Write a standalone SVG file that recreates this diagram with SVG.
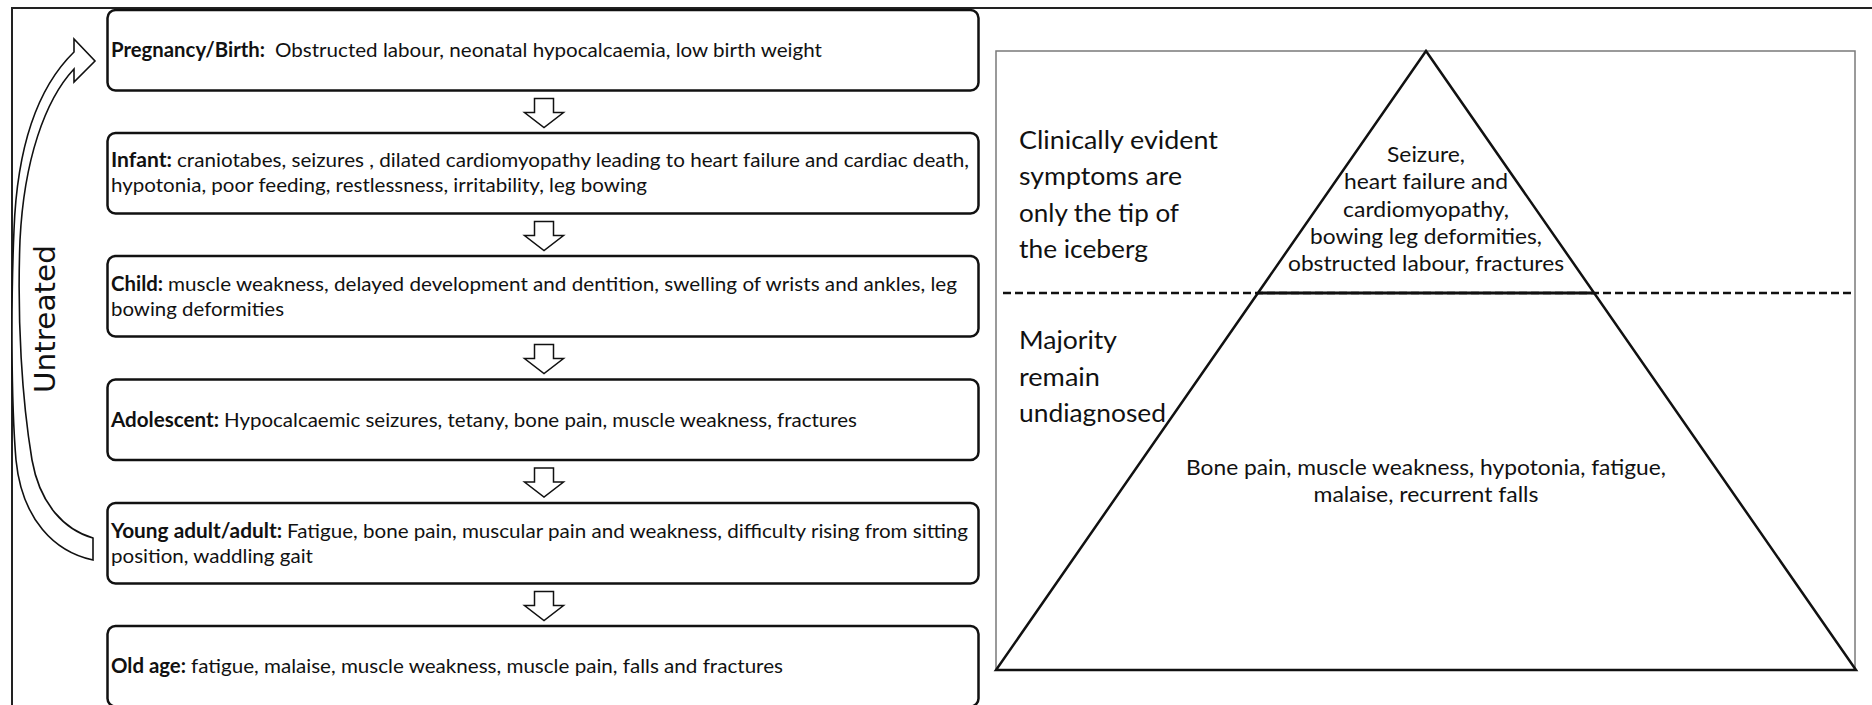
<svg xmlns="http://www.w3.org/2000/svg" width="1872" height="705" viewBox="0 0 1872 705">
<style>
.box{fill:#fff;stroke:#111;stroke-width:2.5}
.t{font-family:Lato,"Liberation Sans",sans-serif;font-size:20px;fill:#111}
.b{font-weight:bold}
.ice{font-family:Lato,"Liberation Sans",sans-serif;font-size:22px;fill:#111}
.lab{font-family:Lato,"Liberation Sans",sans-serif;font-size:25.5px;fill:#111}
.darr{fill:#fff;stroke:#111;stroke-width:1.5;stroke-linejoin:miter}
</style>
<rect width="1872" height="705" fill="#fff"/>
<path d="M12 705 L12 8 L1872 8" fill="none" stroke="#222" stroke-width="2"/>

<g id="node-pregnancy">
<rect class="box" x="107.5" y="10" width="871" height="80.5" rx="8"/>
<text class="t" y="57"><tspan class="b" x="111" textLength="154" lengthAdjust="spacingAndGlyphs">Pregnancy/Birth:</tspan><tspan x="275" textLength="547" lengthAdjust="spacingAndGlyphs">Obstructed labour, neonatal hypocalcaemia, low birth weight</tspan></text>
</g>
<g id="node-infant">
<rect class="box" x="107.5" y="133" width="871" height="80.5" rx="8"/>
<text class="t" y="167"><tspan class="b" x="111" textLength="61" lengthAdjust="spacingAndGlyphs">Infant:</tspan><tspan x="177" textLength="792" lengthAdjust="spacingAndGlyphs">craniotabes, seizures , dilated cardiomyopathy leading to heart failure and cardiac death,</tspan></text>
<text class="t" x="111" y="192" textLength="536" lengthAdjust="spacingAndGlyphs">hypotonia, poor feeding, restlessness, irritability, leg bowing</text>
</g>
<g id="node-child">
<rect class="box" x="107.5" y="256" width="871" height="80.5" rx="8"/>
<text class="t" y="291"><tspan class="b" x="111" textLength="52" lengthAdjust="spacingAndGlyphs">Child:</tspan><tspan x="168" textLength="789" lengthAdjust="spacingAndGlyphs">muscle weakness, delayed development and dentition, swelling of wrists and ankles, leg</tspan></text>
<text class="t" x="111" y="316" textLength="173" lengthAdjust="spacingAndGlyphs">bowing deformities</text>
</g>
<g id="node-adolescent">
<rect class="box" x="107.5" y="379.5" width="871" height="80.5" rx="8"/>
<text class="t" y="427"><tspan class="b" x="111" textLength="108" lengthAdjust="spacingAndGlyphs">Adolescent:</tspan><tspan x="224" textLength="633" lengthAdjust="spacingAndGlyphs">Hypocalcaemic seizures, tetany, bone pain, muscle weakness, fractures</tspan></text>
</g>
<g id="node-adult">
<rect class="box" x="107.5" y="503" width="871" height="80.5" rx="8"/>
<text class="t" y="538"><tspan class="b" x="111" textLength="171" lengthAdjust="spacingAndGlyphs">Young adult/adult:</tspan><tspan x="287" textLength="681" lengthAdjust="spacingAndGlyphs">Fatigue, bone pain, muscular pain and weakness, difficulty rising from sitting</tspan></text>
<text class="t" x="111" y="563" textLength="202" lengthAdjust="spacingAndGlyphs">position, waddling gait</text>
</g>
<g id="node-oldage">
<rect class="box" x="107.5" y="626" width="871" height="80.5" rx="8"/>
<text class="t" y="673"><tspan class="b" x="111" textLength="75" lengthAdjust="spacingAndGlyphs">Old age:</tspan><tspan x="191" textLength="592" lengthAdjust="spacingAndGlyphs">fatigue, malaise, muscle weakness, muscle pain, falls and fractures</tspan></text>
</g>

<g id="connectors">
<path class="darr" d="M534.5 98.5 L553.5 98.5 L553.5 112.5 L563.5 112.5 L544 127.5 L524.5 112.5 L534.5 112.5 Z"/>
<path class="darr" d="M534.5 221.5 L553.5 221.5 L553.5 235.5 L563.5 235.5 L544 250.5 L524.5 235.5 L534.5 235.5 Z"/>
<path class="darr" d="M534.5 344.5 L553.5 344.5 L553.5 358.5 L563.5 358.5 L544 373.5 L524.5 358.5 L534.5 358.5 Z"/>
<path class="darr" d="M534.5 468 L553.5 468 L553.5 482 L563.5 482 L544 497 L524.5 482 L534.5 482 Z"/>
<path class="darr" d="M534.5 591.5 L553.5 591.5 L553.5 605.5 L563.5 605.5 L544 620.5 L524.5 605.5 L534.5 605.5 Z"/>
<path id="untreated-arrow" fill="#fff" stroke="#111" stroke-width="1.6" stroke-linejoin="miter" d="M93 560 C55 552 22 520 16 460 C11 400 11 300 14 230 C17 150 35 90 74 52 L74 39 L95 61 L74 82 L74 69 C45 100 24 160 20 240 C17 320 22 400 32 460 C40 505 65 530 93 538 Z"/>
</g>
<text id="untreated" transform="translate(55,319) rotate(-90)" text-anchor="middle" font-family="'DejaVu Sans',Verdana,sans-serif" font-size="29" textLength="148" lengthAdjust="spacingAndGlyphs" fill="#111">Untreated</text>

<g id="iceberg">
<rect x="996" y="51" width="859" height="619" fill="#fff" stroke="#7a7a7a" stroke-width="1.5"/>
<line x1="1003" y1="293" x2="1855" y2="293" stroke="#111" stroke-width="2.5" stroke-dasharray="8,4"/>
<polygon points="1426,51 996,670 1856,670" fill="none" stroke="#111" stroke-width="2.5" stroke-linejoin="miter"/>
<line x1="1258" y1="293" x2="1594" y2="293" stroke="#111" stroke-width="3"/>
</g>
<g id="tip-label" class="ice" text-anchor="middle">
<text class="ice" x="1426" y="162" textLength="78" lengthAdjust="spacingAndGlyphs">Seizure,</text>
<text class="ice" x="1426" y="189" textLength="164" lengthAdjust="spacingAndGlyphs">heart failure and</text>
<text class="ice" x="1426" y="216.5" textLength="166" lengthAdjust="spacingAndGlyphs">cardiomyopathy,</text>
<text class="ice" x="1426" y="243.5" textLength="232" lengthAdjust="spacingAndGlyphs">bowing leg deformities,</text>
<text class="ice" x="1426" y="271" textLength="276" lengthAdjust="spacingAndGlyphs">obstructed labour, fractures</text>
</g>
<g id="base-label" text-anchor="middle">
<text class="ice" x="1426" y="475" textLength="480" lengthAdjust="spacingAndGlyphs">Bone pain, muscle weakness, hypotonia, fatigue,</text>
<text class="ice" x="1426" y="502" textLength="225" lengthAdjust="spacingAndGlyphs">malaise, recurrent falls</text>
</g>
<g id="evident-label">
<text class="lab" x="1019" y="148.5" textLength="199" lengthAdjust="spacingAndGlyphs">Clinically evident</text>
<text class="lab" x="1019" y="185" textLength="163" lengthAdjust="spacingAndGlyphs">symptoms are</text>
<text class="lab" x="1019" y="221.5" textLength="160" lengthAdjust="spacingAndGlyphs">only the tip of</text>
<text class="lab" x="1019" y="258" textLength="129" lengthAdjust="spacingAndGlyphs">the iceberg</text>
</g>
<g id="undiagnosed-label">
<text class="lab" x="1019" y="349" textLength="98" lengthAdjust="spacingAndGlyphs">Majority</text>
<text class="lab" x="1019" y="385.5" textLength="81" lengthAdjust="spacingAndGlyphs">remain</text>
<text class="lab" x="1019" y="422" textLength="147" lengthAdjust="spacingAndGlyphs">undiagnosed</text>
</g>
</svg>
